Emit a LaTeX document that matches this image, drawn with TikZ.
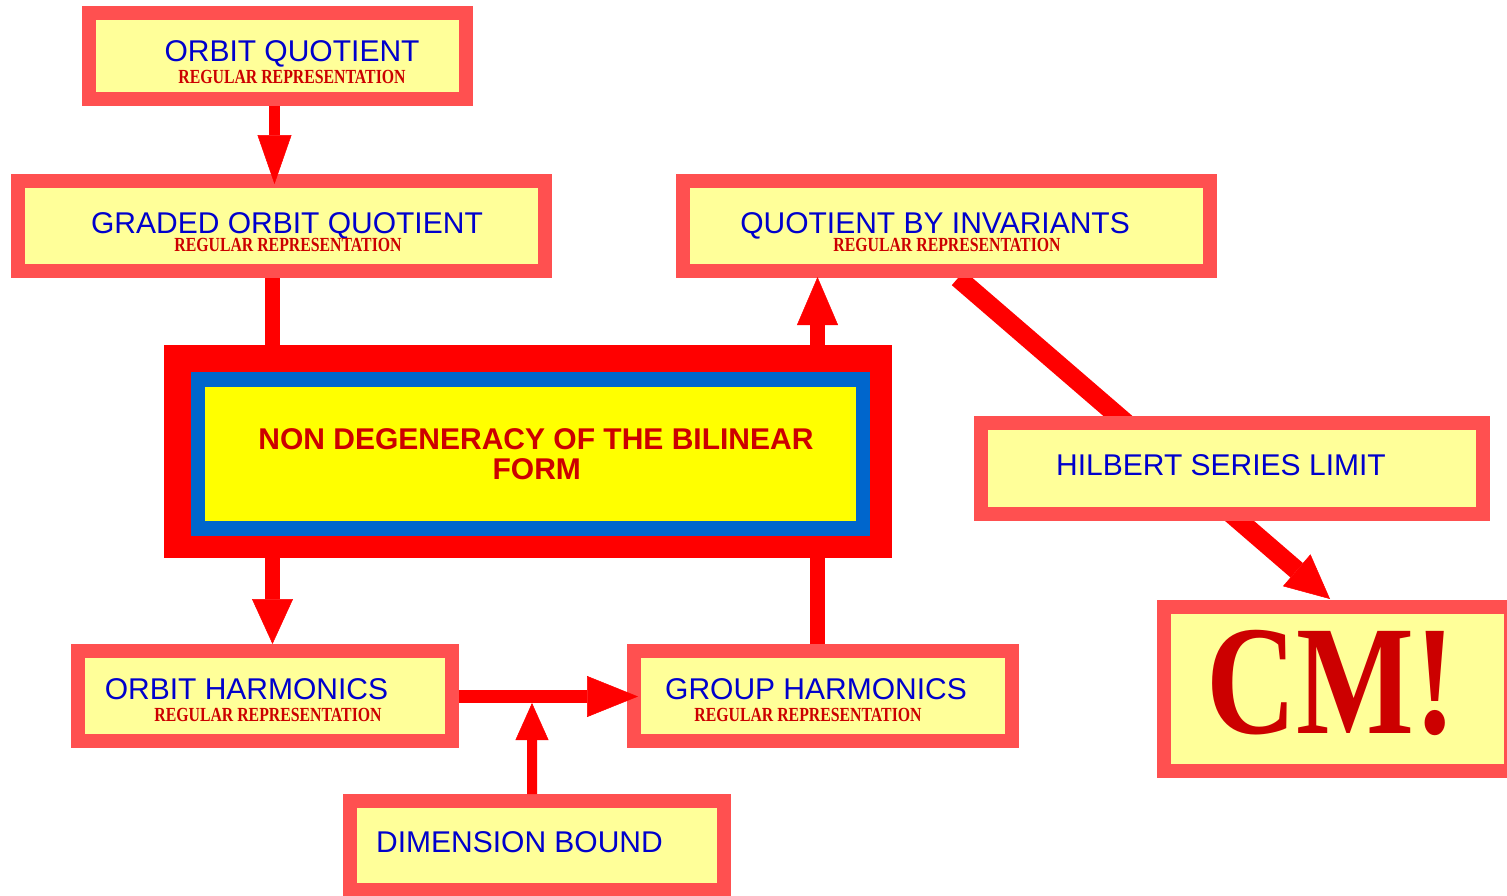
\documentclass[tikz,border=0pt]{standalone}
\usepackage{fontspec}
\setmainfont{Liberation Sans}
\newfontfamily\subf[FakeStretch=0.79]{Liberation Serif}
\newfontfamily\cmf[FakeStretch=0.8]{Liberation Serif}
\usetikzlibrary{arrows.meta,calc}
\definecolor{bord}{HTML}{FF5050}
\definecolor{boxfill}{HTML}{FFFF99}
\definecolor{ttlc}{HTML}{0000CC}
\definecolor{subc}{HTML}{CC0000}
\definecolor{arrc}{HTML}{FF0000}
\definecolor{cblue}{HTML}{0066CC}
\definecolor{cyel}{HTML}{FFFF00}
\pgfdeclarelayer{bg}
\pgfsetlayers{bg,main}
\tikzset{
  bx/.style={draw=bord, line width=14pt, fill=boxfill, rectangle, inner sep=0pt, outer sep=7pt},
  plain/.style={rectangle, inner sep=0pt, outer sep=0pt},
  ttl/.style={text=ttlc, font=\fontsize{30}{30}\selectfont, inner sep=0pt, anchor=base},
  subt/.style={text=subc, font=\subf\bfseries\fontsize{20}{20}\selectfont, inner sep=0pt, anchor=base},
  cen/.style={text=subc, font=\bfseries\fontsize{30}{30}\selectfont, inner sep=0pt, anchor=base},
  conn/.style={draw=arrc, line width=15pt},
}
\begin{document}
\begin{tikzpicture}[x=1pt,y=-1pt]
\useasboundingbox (0,0) rectangle (1507,895);
% boxes
\node[bx, minimum width=377pt, minimum height=86pt] (oq) at (277.5,56) {};
\node[bx, minimum width=527pt, minimum height=90pt] (goq) at (281.5,226) {};
\node[bx, minimum width=527pt, minimum height=90pt] (qbi) at (946.5,226) {};
\node[bx, minimum width=502pt, minimum height=91pt] (hsl) at (1232,468.5) {};
\node[bx, minimum width=347pt, minimum height=164pt] (cm) at (1337.5,689) {};
\node[bx, minimum width=374pt, minimum height=90pt] (oh) at (265,696) {};
\node[bx, minimum width=378pt, minimum height=90pt] (gh) at (823,696) {};
\node[bx, minimum width=374pt, minimum height=89pt] (db) at (537,845.5) {};
% central box
\node[plain, fill=arrc, minimum width=728pt, minimum height=213pt] (nd) at (528,451.5) {};
\node[plain, fill=cblue, minimum width=679pt, minimum height=164pt] (ndb) at (530.5,454) {};
\node[plain, fill=cyel, minimum width=651pt, minimum height=134pt] (ndy) at (530.5,454) {};
% texts
\node[ttl] (oqt) at (292,61) {ORBIT QUOTIENT};
\node[subt] (oqs) at (292,83.5) {REGULAR REPRESENTATION};
\node[ttl] (goqt) at (287,233) {GRADED ORBIT QUOTIENT};
\node[subt] (goqs) at (288,251) {REGULAR REPRESENTATION};
\node[ttl] (qbit) at (935,233) {QUOTIENT BY INVARIANTS};
\node[subt] (qbis) at (947,251) {REGULAR REPRESENTATION};
\node[ttl] (hslt) at (1221,475) {HILBERT SERIES LIMIT};
\node[ttl] (oht) at (246.5,699) {ORBIT HARMONICS};
\node[subt] (ohs) at (268,721) {REGULAR REPRESENTATION};
\node[ttl] (ght) at (816,699) {GROUP HARMONICS};
\node[subt] (ghs) at (808,721) {REGULAR REPRESENTATION};
\node[ttl] (dbt) at (519.5,852) {DIMENSION BOUND};
\node[cen] (ndt1) at (536,449.3) {NON DEGENERACY OF THE BILINEAR};
\node[cen] (ndt2) at (536.8,479.3) {FORM};
\node[text=subc, font=\cmf\bfseries\fontsize{156}{156}\selectfont, inner sep=0pt, anchor=base] (cmt) at (1331,733) {CM!};
% connectors
\draw[conn, line width=11pt, -{Triangle[length=49pt,width=34pt,line width=0.5pt]}]
  ([xshift=-3pt]oq.south) -- ([xshift=-7pt,yshift=-10pt]goq.north);
\draw[conn] ([xshift=-9.5pt]goq.south) -- ([xshift=-256pt]nd.north);
\draw[conn, -{Triangle[length=45pt,width=41pt,line width=0.5pt]}]
  ([xshift=-255.5pt]nd.south) -- ([xshift=7.5pt]oh.north);
\draw[conn] ([xshift=-5.5pt]gh.north) -- ([xshift=289.5pt]nd.south);
\draw[conn, -{Triangle[length=48pt,width=41pt,line width=0.5pt]}]
  ([xshift=289.5pt]nd.north) -- ([xshift=-129pt,yshift=1pt]qbi.south);
\draw[conn, line width=13pt, -{Triangle[length=51pt,width=41pt,line width=0.5pt]}]
  ([yshift=-0.5pt]oh.east) -- ([xshift=11pt,yshift=-0.5pt]gh.west);
\path ([yshift=-0.5pt]oh.east) -- ([yshift=-0.5pt]gh.west) coordinate[pos=0.4345] (junc);
\draw[conn, line width=10pt, -{Triangle[length=37pt,width=33pt,line width=0.5pt]}]
  ([xshift=-5pt]db.north) -- ([yshift=-6.5pt]junc);
% diagonal, behind the Hilbert box
\coordinate (qo) at ([xshift=11.5pt]qbi.south);
\coordinate (ci) at ([xshift=-7.5pt,yshift=1pt]cm.north);
\coordinate (hm) at ($(qo)!0.5!(ci)$);
\begin{pgfonlayer}{bg}
\draw[conn, line width=19pt] (qo) -- (hm);
\draw[conn, line width=19pt, -{Triangle[length=44pt,width=42pt,line width=0.5pt]}] (hm) -- (ci);
\end{pgfonlayer}
\end{tikzpicture}
\end{document}
